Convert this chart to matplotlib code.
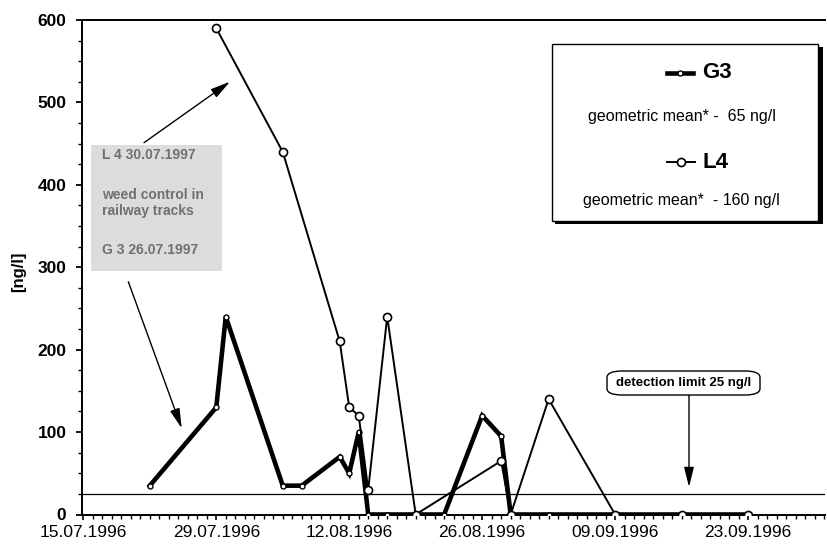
import matplotlib
matplotlib.use("Agg")
import matplotlib.pyplot as plt
import matplotlib.dates as mdates
from matplotlib.patches import Rectangle, FancyBboxPatch
from matplotlib.lines import Line2D
import datetime as dt

plt.rcParams['font.family'] = ['Liberation Sans', 'DejaVu Sans']

# ---------------- data ----------------
g3_dates = ["22.07.1996", "29.07.1996", "30.07.1996", "05.08.1996", "07.08.1996",
            "11.08.1996", "12.08.1996", "13.08.1996", "14.08.1996", "16.08.1996",
            "19.08.1996", "22.08.1996", "26.08.1996", "28.08.1996", "29.08.1996",
            "02.09.1996", "09.09.1996", "16.09.1996", "23.09.1996"]
g3_values = [35, 130, 240, 35, 35, 70, 50, 100, 0, 0, 0, 0, 120, 95, 0, 0, 0, 0, 0]

l4_dates = ["29.07.1996", "05.08.1996", "11.08.1996", "12.08.1996", "13.08.1996",
            "14.08.1996", "16.08.1996", "19.08.1996", "28.08.1996", "29.08.1996",
            "02.09.1996", "09.09.1996", "16.09.1996", "23.09.1996"]
l4_values = [590, 440, 210, 130, 120, 30, 240, 0, 65, 0, 140, 0, 0, 0]

tick_dates = ["15.07.1996", "29.07.1996", "12.08.1996", "26.08.1996", "09.09.1996", "23.09.1996"]
detection_limit = 25

def d(s):
    return dt.datetime.strptime(s, "%d.%m.%Y")

W, H = 827, 546
fig = plt.figure(figsize=(W / 100, H / 100), dpi=100)

def fx(x):
    return x / W

def fy(y):
    return 1 - y / H

ax = fig.add_axes([fx(81.7), fy(514.5), fx(825) - fx(81.7), fy(20) - fy(514.5)])

x0 = mdates.date2num(d("15.07.1996"))
ax.set_xlim(x0 - 0.17, x0 + 78.1)
ax.set_ylim(0, 600)

# detection limit line
ax.axhline(detection_limit, color='black', lw=0.9, zorder=2)

ax.plot([d(s) for s in g3_dates], g3_values, color='black', lw=3.3,
        marker='o', ms=3.6, mfc='white', mec='black', mew=1.0, zorder=3,
        solid_joinstyle='miter')
ax.plot([d(s) for s in l4_dates], l4_values, color='black', lw=1.4,
        marker='o', ms=5.8, mfc='white', mec='black', mew=1.2, zorder=4)

# axes styling
for sp in ['left', 'bottom', 'top']:
    ax.spines[sp].set_linewidth(1.4)
ax.spines['right'].set_visible(False)

ax.set_xticks([mdates.date2num(d(s)) for s in tick_dates])
ax.set_xticklabels(tick_dates)
ax.xaxis.set_minor_locator(mdates.DayLocator())
ax.set_yticks(range(0, 601, 100))
ax.set_yticks(range(0, 601, 25), minor=True)

ax.tick_params(axis='x', which='major', direction='out', length=3.8, width=1.2,
               labelsize=12.5, pad=3.6)
ax.tick_params(axis='x', which='minor', direction='out', length=2.8, width=1.0)
ax.tick_params(axis='y', which='major', direction='out', length=4, width=1.3,
               labelsize=12.5, pad=7)
ax.tick_params(axis='y', which='minor', direction='out', length=3, width=1.0)
for lab in ax.get_yticklabels():
    lab.set_fontweight('bold')

fig.text(fx(19), fy(272), "[ng/l]", rotation=90, fontsize=12, fontweight='bold',
         ha='center', va='center')

# ---------- annotation box (gray) ----------
fig.patches.append(Rectangle((fx(90.7), fy(270.7)), fx(221.7) - fx(90.7), fy(145) - fy(270.7),
                             transform=fig.transFigure, facecolor='#dcdcdc',
                             edgecolor='none', zorder=5))
gray = '#707070'
for txt, yy in [("L 4 30.07.1997", 155), ("weed control in", 195),
                ("railway tracks", 211.5), ("G 3 26.07.1997", 250)]:
    fig.text(fx(102), fy(yy), txt, fontsize=10, fontweight='bold', color=gray,
             ha='left', va='center', zorder=6)

# arrows
arrow_style = dict(arrowstyle='-|>,head_length=1.2,head_width=0.3',
                   color='black', lw=1.0, shrinkA=0, shrinkB=0)
ax.annotate("", xy=(fx(230), fy(81.7)), xycoords='figure fraction',
            xytext=(fx(144), fy(142.7)), textcoords='figure fraction',
            arrowprops=arrow_style)
ax.annotate("", xy=(fx(181.7), fy(428.3)), xycoords='figure fraction',
            xytext=(fx(128.3), fy(281.7)), textcoords='figure fraction',
            arrowprops=arrow_style)
ax.annotate("", xy=(fx(689), fy(487)), xycoords='figure fraction',
            xytext=(fx(689), fy(395)), textcoords='figure fraction',
            arrowprops=arrow_style)

# detection limit box
fig.patches.append(FancyBboxPatch((fx(607), fy(395)), fx(760) - fx(607), fy(371) - fy(395),
                                  boxstyle='round,pad=0,rounding_size=0.018',
                                  transform=fig.transFigure, facecolor='white',
                                  edgecolor='black', lw=1.0, zorder=6,
                                  mutation_aspect=H / W))
fig.text(fx(683.5), fy(383), "detection limit 25 ng/l", fontsize=9.5, fontweight='bold',
         ha='center', va='center', zorder=7)

# ---------- legend box with shadow ----------
fig.patches.append(Rectangle((fx(554.5), fy(223.5)), fx(820) - fx(552), fy(44) - fy(221),
                             transform=fig.transFigure, facecolor='black',
                             edgecolor='none', zorder=6))
fig.patches.append(Rectangle((fx(552), fy(221)), fx(818) - fx(552), fy(44) - fy(221),
                             transform=fig.transFigure, facecolor='white',
                             edgecolor='black', lw=1.0, zorder=7))
fig.lines.append(Line2D([fx(667), fx(693)], [fy(73), fy(73)], transform=fig.transFigure,
                        color='black', lw=3.3, zorder=8))
fig.lines.append(Line2D([fx(680)], [fy(73)], transform=fig.transFigure, marker='o',
                        ms=3.6, mfc='white', mec='black', mew=1.0, zorder=9))
fig.text(fx(702), fy(73), "G3", fontsize=16, fontweight='bold', ha='left', va='center', zorder=9)
fig.text(fx(682), fy(117), "geometric mean* -  65 ng/l", fontsize=11.5,
         ha='center', va='center', zorder=9)
fig.lines.append(Line2D([fx(667), fx(695)], [fy(162), fy(162)], transform=fig.transFigure,
                        color='black', lw=1.4, zorder=8))
fig.lines.append(Line2D([fx(681)], [fy(162)], transform=fig.transFigure, marker='o',
                        ms=5.8, mfc='white', mec='black', mew=1.2, zorder=9))
fig.text(fx(702), fy(162), "L4", fontsize=16, fontweight='bold', ha='left', va='center', zorder=9)
fig.text(fx(681), fy(200), "geometric mean*  - 160 ng/l", fontsize=11.5,
         ha='center', va='center', zorder=9)

fig.savefig("out.png", dpi=100)
